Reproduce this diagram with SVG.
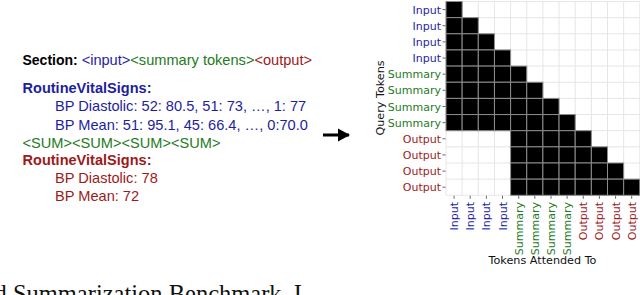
<svg xmlns="http://www.w3.org/2000/svg" width="640" height="295" viewBox="0 0 640 295">
<style>
.t{font-family:"Liberation Sans",Arial,sans-serif;font-size:14.6px}
.b{font-weight:bold}
.blk{fill:#000}
.inp{fill:#1e1e9e}
.sum{fill:#237a23}
.out{fill:#9c1a1a}
.ax{font-family:"DejaVu Sans",sans-serif;font-size:11px}
.lab{font-family:"DejaVu Sans",sans-serif;font-size:11.2px;fill:#111}
.grid line{stroke:#e6e6e6;stroke-width:1}
.cells rect{fill:#000;stroke:#8c8c8c;stroke-width:1}
.tick line{stroke:#444;stroke-width:0.8}
.cap{font-family:"Liberation Serif","Times New Roman",serif;font-size:24.5px;fill:#111}
</style>
<defs>
<marker id="ah" markerWidth="12" markerHeight="14" refX="11" refY="7" orient="auto" markerUnits="userSpaceOnUse">
<polygon points="0,0.5 12,7 0,13.5" fill="#000"/>
</marker>
</defs>
<rect width="640" height="295" fill="#fff"/>

<g id="text-block">
<text class="t" x="22.5" y="65"><tspan class="b blk" font-size="14">Section: </tspan><tspan class="inp">&lt;input&gt;</tspan><tspan class="sum">&lt;summary tokens&gt;</tspan><tspan class="out">&lt;output&gt;</tspan></text>
<text class="t b inp" x="22.5" y="93" font-size="14" textLength="129" lengthAdjust="spacingAndGlyphs">RoutineVitalSigns:</text>
<text class="t inp" x="55" y="111">BP Diastolic: 52: 80.5, 51: 73, …, 1: 77</text>
<text class="t inp" x="55" y="129.5">BP Mean: 51: 95.1, 45: 66.4, …, 0:70.0</text>
<text class="t sum" x="22.5" y="147.5">&lt;SUM&gt;&lt;SUM&gt;&lt;SUM&gt;&lt;SUM&gt;</text>
<text class="t b out" x="22.5" y="165" font-size="14" textLength="129" lengthAdjust="spacingAndGlyphs">RoutineVitalSigns:</text>
<text class="t out" x="55" y="183">BP Diastolic: 78</text>
<text class="t out" x="55" y="201">BP Mean: 72</text>
</g>

<g id="connectors">
<line x1="323" y1="135" x2="349" y2="135" stroke="#000" stroke-width="3" marker-end="url(#ah)"/>
</g>

<g id="attention-matrix">
<g class="grid">
<line x1="446" y1="1.5" x2="446" y2="195.3"/>
<line x1="462.15" y1="1.5" x2="462.15" y2="195.3"/>
<line x1="478.3" y1="1.5" x2="478.3" y2="195.3"/>
<line x1="494.45" y1="1.5" x2="494.45" y2="195.3"/>
<line x1="510.6" y1="1.5" x2="510.6" y2="195.3"/>
<line x1="526.75" y1="1.5" x2="526.75" y2="195.3"/>
<line x1="542.9" y1="1.5" x2="542.9" y2="195.3"/>
<line x1="559.05" y1="1.5" x2="559.05" y2="195.3"/>
<line x1="575.2" y1="1.5" x2="575.2" y2="195.3"/>
<line x1="591.35" y1="1.5" x2="591.35" y2="195.3"/>
<line x1="607.5" y1="1.5" x2="607.5" y2="195.3"/>
<line x1="623.65" y1="1.5" x2="623.65" y2="195.3"/>
<line x1="639.8" y1="1.5" x2="639.8" y2="195.3"/>
<line x1="446" y1="1.5" x2="640" y2="1.5"/>
<line x1="446" y1="17.65" x2="640" y2="17.65"/>
<line x1="446" y1="33.8" x2="640" y2="33.8"/>
<line x1="446" y1="49.95" x2="640" y2="49.95"/>
<line x1="446" y1="66.1" x2="640" y2="66.1"/>
<line x1="446" y1="82.25" x2="640" y2="82.25"/>
<line x1="446" y1="98.4" x2="640" y2="98.4"/>
<line x1="446" y1="114.55" x2="640" y2="114.55"/>
<line x1="446" y1="130.7" x2="640" y2="130.7"/>
<line x1="446" y1="146.85" x2="640" y2="146.85"/>
<line x1="446" y1="163" x2="640" y2="163"/>
<line x1="446" y1="179.15" x2="640" y2="179.15"/>
<line x1="446" y1="195.3" x2="640" y2="195.3"/>
</g>
<g class="cells">
<rect x="446" y="1.5" width="16.15" height="16.15"/>
<rect x="446" y="17.65" width="16.15" height="16.15"/><rect x="462.15" y="17.65" width="16.15" height="16.15"/>
<rect x="446" y="33.8" width="16.15" height="16.15"/><rect x="462.15" y="33.8" width="16.15" height="16.15"/><rect x="478.3" y="33.8" width="16.15" height="16.15"/>
<rect x="446" y="49.95" width="16.15" height="16.15"/><rect x="462.15" y="49.95" width="16.15" height="16.15"/><rect x="478.3" y="49.95" width="16.15" height="16.15"/><rect x="494.45" y="49.95" width="16.15" height="16.15"/>
<rect x="446" y="66.1" width="16.15" height="16.15"/><rect x="462.15" y="66.1" width="16.15" height="16.15"/><rect x="478.3" y="66.1" width="16.15" height="16.15"/><rect x="494.45" y="66.1" width="16.15" height="16.15"/><rect x="510.6" y="66.1" width="16.15" height="16.15"/>
<rect x="446" y="82.25" width="16.15" height="16.15"/><rect x="462.15" y="82.25" width="16.15" height="16.15"/><rect x="478.3" y="82.25" width="16.15" height="16.15"/><rect x="494.45" y="82.25" width="16.15" height="16.15"/><rect x="510.6" y="82.25" width="16.15" height="16.15"/><rect x="526.75" y="82.25" width="16.15" height="16.15"/>
<rect x="446" y="98.4" width="16.15" height="16.15"/><rect x="462.15" y="98.4" width="16.15" height="16.15"/><rect x="478.3" y="98.4" width="16.15" height="16.15"/><rect x="494.45" y="98.4" width="16.15" height="16.15"/><rect x="510.6" y="98.4" width="16.15" height="16.15"/><rect x="526.75" y="98.4" width="16.15" height="16.15"/><rect x="542.9" y="98.4" width="16.15" height="16.15"/>
<rect x="446" y="114.55" width="16.15" height="16.15"/><rect x="462.15" y="114.55" width="16.15" height="16.15"/><rect x="478.3" y="114.55" width="16.15" height="16.15"/><rect x="494.45" y="114.55" width="16.15" height="16.15"/><rect x="510.6" y="114.55" width="16.15" height="16.15"/><rect x="526.75" y="114.55" width="16.15" height="16.15"/><rect x="542.9" y="114.55" width="16.15" height="16.15"/><rect x="559.05" y="114.55" width="16.15" height="16.15"/>
<rect x="510.6" y="130.7" width="16.15" height="16.15"/><rect x="526.75" y="130.7" width="16.15" height="16.15"/><rect x="542.9" y="130.7" width="16.15" height="16.15"/><rect x="559.05" y="130.7" width="16.15" height="16.15"/><rect x="575.2" y="130.7" width="16.15" height="16.15"/>
<rect x="510.6" y="146.85" width="16.15" height="16.15"/><rect x="526.75" y="146.85" width="16.15" height="16.15"/><rect x="542.9" y="146.85" width="16.15" height="16.15"/><rect x="559.05" y="146.85" width="16.15" height="16.15"/><rect x="575.2" y="146.85" width="16.15" height="16.15"/><rect x="591.35" y="146.85" width="16.15" height="16.15"/>
<rect x="510.6" y="163" width="16.15" height="16.15"/><rect x="526.75" y="163" width="16.15" height="16.15"/><rect x="542.9" y="163" width="16.15" height="16.15"/><rect x="559.05" y="163" width="16.15" height="16.15"/><rect x="575.2" y="163" width="16.15" height="16.15"/><rect x="591.35" y="163" width="16.15" height="16.15"/><rect x="607.5" y="163" width="16.15" height="16.15"/>
<rect x="510.6" y="179.15" width="16.15" height="16.15"/><rect x="526.75" y="179.15" width="16.15" height="16.15"/><rect x="542.9" y="179.15" width="16.15" height="16.15"/><rect x="559.05" y="179.15" width="16.15" height="16.15"/><rect x="575.2" y="179.15" width="16.15" height="16.15"/><rect x="591.35" y="179.15" width="16.15" height="16.15"/><rect x="607.5" y="179.15" width="16.15" height="16.15"/><rect x="623.65" y="179.15" width="16.15" height="16.15"/>
</g>
<g class="tick">
<line x1="442.5" y1="9.6" x2="445.5" y2="9.6"/>
<line x1="442.5" y1="25.7" x2="445.5" y2="25.7"/>
<line x1="442.5" y1="41.9" x2="445.5" y2="41.9"/>
<line x1="442.5" y1="58" x2="445.5" y2="58"/>
<line x1="442.5" y1="74.2" x2="445.5" y2="74.2"/>
<line x1="442.5" y1="90.3" x2="445.5" y2="90.3"/>
<line x1="442.5" y1="106.5" x2="445.5" y2="106.5"/>
<line x1="442.5" y1="122.6" x2="445.5" y2="122.6"/>
<line x1="442.5" y1="138.8" x2="445.5" y2="138.8"/>
<line x1="442.5" y1="154.9" x2="445.5" y2="154.9"/>
<line x1="442.5" y1="171.1" x2="445.5" y2="171.1"/>
<line x1="442.5" y1="187.2" x2="445.5" y2="187.2"/>
<line x1="454.1" y1="195.8" x2="454.1" y2="198.8"/>
<line x1="470.2" y1="195.8" x2="470.2" y2="198.8"/>
<line x1="486.4" y1="195.8" x2="486.4" y2="198.8"/>
<line x1="502.5" y1="195.8" x2="502.5" y2="198.8"/>
<line x1="518.7" y1="195.8" x2="518.7" y2="198.8"/>
<line x1="534.8" y1="195.8" x2="534.8" y2="198.8"/>
<line x1="551" y1="195.8" x2="551" y2="198.8"/>
<line x1="567.1" y1="195.8" x2="567.1" y2="198.8"/>
<line x1="583.3" y1="195.8" x2="583.3" y2="198.8"/>
<line x1="599.4" y1="195.8" x2="599.4" y2="198.8"/>
<line x1="615.6" y1="195.8" x2="615.6" y2="198.8"/>
<line x1="631.7" y1="195.8" x2="631.7" y2="198.8"/>
</g>
<g class="ax" text-anchor="end">
<text class="inp" x="441" y="13.6">Input</text>
<text class="inp" x="441" y="29.7">Input</text>
<text class="inp" x="441" y="45.9">Input</text>
<text class="inp" x="441" y="62">Input</text>
<text class="sum" x="441" y="78.2">Summary</text>
<text class="sum" x="441" y="94.3">Summary</text>
<text class="sum" x="441" y="110.5">Summary</text>
<text class="sum" x="441" y="126.6">Summary</text>
<text class="out" x="441" y="142.8">Output</text>
<text class="out" x="441" y="158.9">Output</text>
<text class="out" x="441" y="175.1">Output</text>
<text class="out" x="441" y="191.2">Output</text>
</g>
<g class="ax" text-anchor="end">
<text class="inp" transform="translate(458.1,202) rotate(-90)">Input</text>
<text class="inp" transform="translate(474.2,202) rotate(-90)">Input</text>
<text class="inp" transform="translate(490.4,202) rotate(-90)">Input</text>
<text class="inp" transform="translate(506.5,202) rotate(-90)">Input</text>
<text class="sum" transform="translate(522.7,202) rotate(-90)">Summary</text>
<text class="sum" transform="translate(538.8,202) rotate(-90)">Summary</text>
<text class="sum" transform="translate(555,202) rotate(-90)">Summary</text>
<text class="sum" transform="translate(571.1,202) rotate(-90)">Summary</text>
<text class="out" transform="translate(587.3,202) rotate(-90)">Output</text>
<text class="out" transform="translate(603.4,202) rotate(-90)">Output</text>
<text class="out" transform="translate(619.6,202) rotate(-90)">Output</text>
<text class="out" transform="translate(635.7,202) rotate(-90)">Output</text>
</g>
<text class="lab" text-anchor="middle" transform="translate(384,98) rotate(-90)">Query Tokens</text>
<text class="lab" text-anchor="middle" x="542.5" y="264">Tokens Attended To</text>
</g>

<text class="cap" x="-5.5" y="301.5">d Summarization Benchmark. I</text>
</svg>
